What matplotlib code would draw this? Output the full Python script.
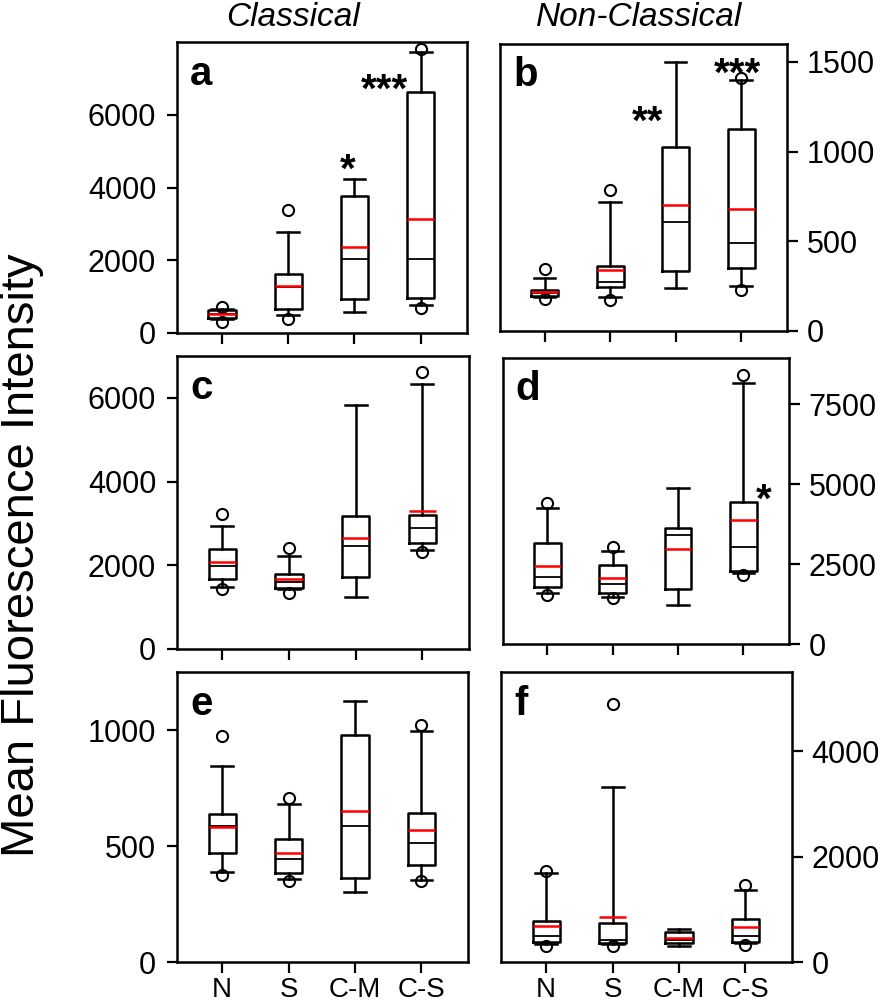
import numpy as np
import matplotlib.pyplot as plt

plt.rcParams['font.family'] = ['Liberation Sans', 'DejaVu Sans']

groups = ['N', 'S', 'C-M', 'C-S']
letters = ['a', 'b', 'c', 'd', 'e', 'f']

# box stats, one row per panel (a..f), one column per group (N, S, C-M, C-S)
q1 = [[422, 670, 945, 972],
      [197, 244, 335, 351],
      [1665, 1458, 1721, 2534],
      [1773, 1585, 1711, 2295],
      [469, 384, 362, 418],
      [378, 359, 359, 384]]
med = [[520, 1265, 2027, 2045],
       [214, 271, 606, 489],
       [1984, 1602, 2454, 2884],
       [2096, 1877, 3411, 3025],
       [585, 442, 588, 511],
       [498, 422, 410, 485]]
q3 = [[642, 1614, 3760, 6639],
      [229, 364, 1024, 1127],
      [2382, 1801, 3179, 3195],
      [3171, 2472, 3640, 4443],
      [636, 530, 978, 641],
      [769, 737, 561, 825]]
mean = [[530, 1302, 2366, 3145],
        [216, 340, 705, 679],
        [2088, 1665, 2653, 3299],
        [2451, 2055, 2962, 3880],
        [583, 468, 651, 571],
        [680, 850, 454, 661]]
wlo = [[395, 486, 578, 761],
       [191, 191, 238, 253],
       [1490, 1442, 1243, 2359],
       [1585, 1481, 1220, 2211],
       [389, 359, 303, 355],
       [347, 340, 296, 359]]
whi = [[670, 2779, 4246, 7730],
       [294, 718, 1502, 1400],
       [2940, 2215, 5825, 6327],
       [4245, 2920, 4871, 8156],
       [846, 680, 1127, 997],
       [1695, 3320, 624, 1367]]
fliers = [[[300, 715], [394, 3375], [], [697, 7795]],
          [[177, 344], [173, 786], [], [229, 1412]],
          [[1442, 3219], [1347, 2406], [], [2319, 6606]],
          [[1533, 4422], [1429, 3025], [], [2159, 8417]],
          [[374, 975], [349, 709], [], [348, 1023]],
          [[296, 1733], [296, 4895], [], [315, 1455]]]

ymax = [8000, 1600, 7000, 8950, 1250, 5500]
yticks = [[0, 2000, 4000, 6000],
          [0, 500, 1000, 1500],
          [0, 2000, 4000, 6000],
          [0, 2500, 5000, 7500],
          [0, 500, 1000],
          [0, 2000, 4000]]

# significance marks: panel index, x (group units), y (data), text
star_panel = [0, 0, 1, 1, 3]
star_x = [2.9, 3.46, 2.57, 3.94, 4.32]
star_y = [4800, 7000, 1227, 1498, 4870]
star_txt = ['*', '***', '**', '***', '*']

W, H = 886, 1002
# axes frames in pixels: left, top, right, bottom
frames = [(177, 42, 467, 333), (500, 44, 787, 331),
          (177, 356, 469, 649), (503, 358, 789, 644),
          (177, 672, 468, 962), (501, 672, 792, 962)]

fig = plt.figure(figsize=(W / 100, H / 100), dpi=100)

axes = []
for i in range(6):
    l, t, r, b = frames[i]
    ax = fig.add_axes([l / W, 1 - b / H, (r - l) / W, (b - t) / H])
    axes.append(ax)

    stats = []
    for j in range(4):
        stats.append(dict(q1=q1[i][j], med=med[i][j], q3=q3[i][j], mean=mean[i][j],
                          whislo=wlo[i][j], whishi=whi[i][j],
                          fliers=np.array(fliers[i][j])))
    ax.bxp(stats, positions=[1, 2, 3, 4], widths=0.41, capwidths=0.33,
           showmeans=True, meanline=True, showfliers=True,
           boxprops=dict(color='black', linewidth=1.8),
           whiskerprops=dict(color='black', linewidth=1.8),
           capprops=dict(color='black', linewidth=1.8),
           medianprops=dict(color='black', linewidth=1.3),
           meanprops=dict(color='red', linewidth=1.8, linestyle='-'),
           flierprops=dict(marker='o', markersize=8, markerfacecolor='none',
                           markeredgecolor='black', markeredgewidth=1.5))

    ax.set_xlim(0.32, 4.7)
    ax.set_ylim(0, ymax[i])
    ax.set_yticks(yticks[i])
    ax.set_xticks([1, 2, 3, 4])
    for s in ax.spines.values():
        s.set_linewidth(1.8)

    if i % 2 == 0:
        ax.yaxis.tick_left()
        ax.tick_params(axis='y', direction='out', length=7, width=1.6,
                       labelsize=22, pad=8)
    else:
        ax.yaxis.tick_right()
        ax.tick_params(axis='y', direction='out', length=8, width=1.6,
                       labelsize=22, pad=6)
    ax.tick_params(axis='x', direction='out', length=8, width=1.6,
                   labelsize=20, pad=3)
    if i >= 4:
        ax.set_xticklabels(groups)
    else:
        ax.set_xticklabels([])

    ax.text(0.045, 0.852, letters[i], transform=ax.transAxes, fontsize=29,
            fontweight='bold', ha='left', va='baseline')

for k in range(len(star_txt)):
    ax = axes[star_panel[k]]
    ax.annotate(star_txt[k], xy=(star_x[k], star_y[k]), xytext=(0, -0.58 * 29),
                textcoords='offset points', ha='center', va='baseline',
                fontsize=29, fontweight='bold')

fig.text(293 / W, 1 - 17 / H, 'Classical', fontsize=24, style='italic',
         ha='center', va='center')
fig.text(639 / W, 1 - 17 / H, 'Non-Classical', fontsize=24, style='italic',
         ha='center', va='center')
fig.text(0.0, 1 - 555 / H, 'Mean Fluorescence Intensity', fontsize=34,
         rotation=90, ha='left', va='center')

fig.savefig('out.png', dpi=100)
